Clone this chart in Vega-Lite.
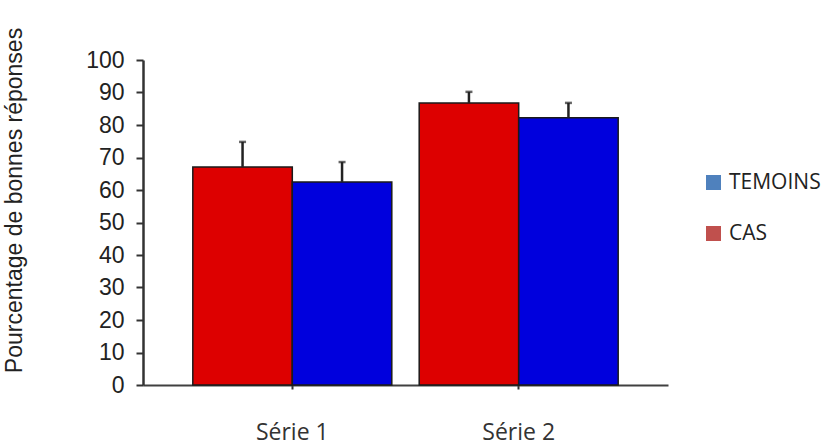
{
  "$schema": "https://vega.github.io/schema/vega-lite/v6.json",
  "width": 525,
  "height": 325,
  "autosize": "none",
  "padding": {"left": 143, "top": 60, "right": 156, "bottom": 63},
  "background": "white",
  "config": {"view": {"stroke": null}},
  "data": {
    "values": [
      {"serie": "Série 1", "groupe": "CAS", "valeur": 67.1, "haut": 74.8},
      {"serie": "Série 1", "groupe": "TEMOINS", "valeur": 62.5, "haut": 68.6},
      {"serie": "Série 2", "groupe": "CAS", "valeur": 86.8, "haut": 90.2},
      {"serie": "Série 2", "groupe": "TEMOINS", "valeur": 82.2, "haut": 86.8}
    ]
  },
  "encoding": {
    "x": {
      "field": "serie",
      "type": "nominal",
      "scale": {"paddingInner": 0.121, "paddingOuter": 0.22},
      "axis": {
        "title": null,
        "labelAngle": 0,
        "labelFont": "Open Sans",
        "labelFontSize": 23,
        "labelColor": "#333333",
        "labelPadding": 32,
        "tickSize": 4,
        "tickWidth": 2,
        "tickColor": "#333333",
        "domainColor": "#404040",
        "domainWidth": 2
      }
    },
    "xOffset": {
      "field": "groupe",
      "type": "nominal",
      "sort": ["CAS", "TEMOINS"],
      "scale": {"paddingInner": 0, "paddingOuter": 0}
    },
    "y": {
      "field": "valeur",
      "type": "quantitative",
      "scale": {"domain": [0, 100]},
      "axis": {
        "title": "Pourcentage de bonnes réponses",
        "titleFont": "Liberation Sans",
        "titleFontSize": 23,
        "titleFontWeight": "normal",
        "titleColor": "#222222",
        "titleX": -117,
        "titleY": 140,
        "values": [0, 10, 20, 30, 40, 50, 60, 70, 80, 90, 100],
        "labelOverlap": false,
        "grid": false,
        "labelFont": "Liberation Sans",
        "labelFontSize": 23,
        "labelColor": "#222222",
        "labelPadding": 12,
        "tickSize": 7,
        "tickWidth": 2,
        "tickColor": "#333333",
        "domainColor": "#333333",
        "domainWidth": 2.5
      }
    }
  },
  "layer": [
    {
      "mark": {"type": "point", "filled": true, "opacity": 0, "shape": "square"},
      "encoding": {
        "fill": {
          "field": "groupe",
          "type": "nominal",
          "scale": {"domain": ["TEMOINS", "CAS"], "range": ["#4f81bd", "#c0504d"]},
          "legend": {
            "title": null,
            "orient": "none",
            "legendX": 560,
            "legendY": 112,
            "symbolType": "square",
            "symbolSize": 225,
            "symbolStrokeWidth": 0,
            "symbolOpacity": 1,
            "labelFont": "Open Sans",
            "labelFontSize": 21,
            "labelColor": "#222222",
            "labelOffset": 5,
            "rowPadding": 29
          }
        }
      }
    },
    {
      "mark": {"type": "bar", "stroke": "#1a1a1a", "strokeWidth": 1.5},
      "encoding": {
        "color": {
          "field": "groupe",
          "type": "nominal",
          "scale": {"domain": ["TEMOINS", "CAS"], "range": ["#0000dd", "#dd0000"]},
          "legend": null
        }
      }
    },
    {
      "mark": {"type": "rule", "color": "#222222", "strokeWidth": 2.5},
      "encoding": {
        "y2": {"field": "haut"}
      }
    },
    {
      "mark": {"type": "tick", "color": "#222222", "thickness": 2.5, "size": 7, "orient": "horizontal"},
      "encoding": {
        "y": {
          "field": "haut",
          "type": "quantitative",
          "axis": {
            "title": "Pourcentage de bonnes réponses",
            "titleFont": "Liberation Sans",
            "titleFontSize": 23,
            "titleFontWeight": "normal",
            "titleColor": "#222222",
            "titleX": -117,
            "titleY": 140,
            "values": [0, 10, 20, 30, 40, 50, 60, 70, 80, 90, 100],
            "labelOverlap": false,
            "grid": false,
            "labelFont": "Liberation Sans",
            "labelFontSize": 23,
            "labelColor": "#222222",
            "labelPadding": 12,
            "tickSize": 7,
            "tickWidth": 2,
            "tickColor": "#333333",
            "domainColor": "#333333",
            "domainWidth": 2.5
          }
        }
      }
    }
  ]
}
